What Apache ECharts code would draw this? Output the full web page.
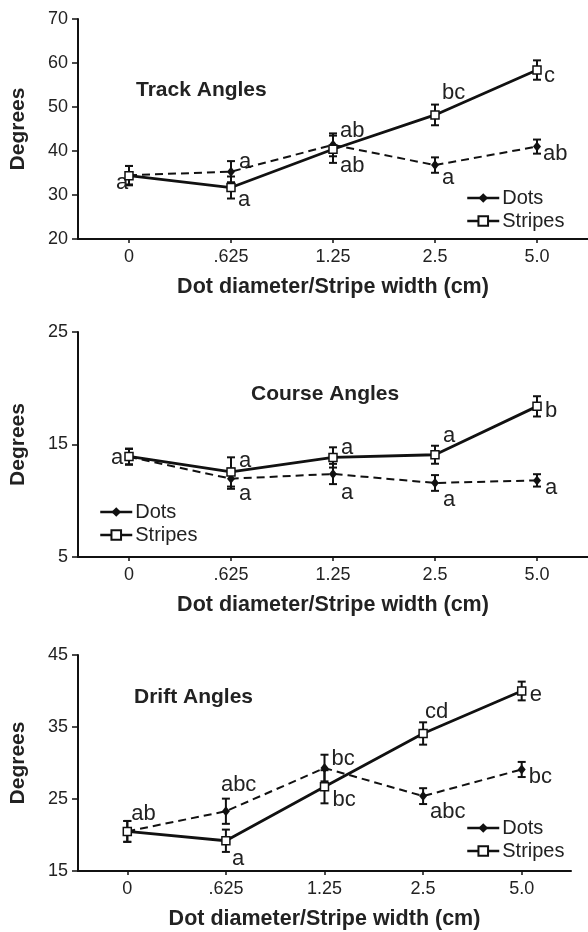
<!DOCTYPE html>
<html>
<head>
<meta charset="utf-8">
<script src="https://cdn.jsdelivr.net/npm/echarts@6/dist/echarts.min.js"></script>
<style>
  html, body { margin: 0; padding: 0; background: #fff; }
  #chart { width: 588px; height: 932px; }
</style>
</head>
<body>
<div id="chart"></div>
<script>
// x categories (dot diameter / stripe width, cm)
const categories = ["0", ".625", "1.25", "2.5", "5.0"];

// Track angles
const trackDots = [34.5, 35.3, 41.4, 36.8, 41.0];
const trackDotsErr = [2.1, 2.4, 2.6, 1.75, 1.6];
const trackStripes = [34.4, 31.7, 40.4, 48.2, 58.4];
const trackStripesErr = [2.2, 2.5, 3.1, 2.35, 2.2];
const trackDotsLetters = ["", "a", "ab", "a", "ab"];
const trackStripesLetters = ["a", "a", "ab", "bc", "c"];

// Course angles
const courseDots = [13.9, 11.96, 12.38, 11.58, 11.81];
const courseDotsErr = [0.7, 0.9, 0.9, 0.7, 0.55];
const courseStripes = [13.94, 12.56, 13.85, 14.09, 18.39];
const courseStripesErr = [0.7, 1.3, 0.9, 0.8, 0.9];
const courseDotsLetters = ["", "a", "a", "a", "a"];
const courseStripesLetters = ["a", "a", "a", "a", "b"];

// Drift angles
const driftDots = [20.5, 23.3, 29.3, 25.4, 29.1];
const driftDotsErr = [1.45, 1.75, 1.85, 1.1, 1.05];
const driftStripes = [20.5, 19.2, 26.7, 34.1, 40.0];
const driftStripesErr = [1.45, 1.55, 2.3, 1.55, 1.3];
const driftDotsLetters = ["", "abc", "bc", "abc", "bc"];
const driftStripesLetters = ["ab", "a", "bc", "cd", "e"];

// y axis ranges
const yMin = [20, 5, 15];
const yMax = [70, 25, 45];
const yStep = [10, 10, 10];

const FONT = "'Liberation Sans', Arial, Helvetica, sans-serif";
const INK = "#111";

// layout of each panel (pixels)
const layout = [
  { grid: { left: 77, top: 19, width: 520, height: 220 }, title: [136, 80], legend: [466, 188],
    nudgeDots: [null, [8, -10], [7, -14], [7, 13], [6, 7]],
    nudgeStripes: [[-13, 7], [7, 12], [7, 17], [7, -22], [7, 6]] },
  { grid: { left: 77, top: 332, width: 514, height: 225 }, title: [251, 384], legend: [99, 502],
    nudgeDots: [null, [8, 15], [8, 19], [8, 17], [8, 8]],
    nudgeStripes: [[-18, 2], [8, -11], [8, -10], [8, -19], [8, 5]] },
  { grid: { left: 77, top: 655, width: 494, height: 216 }, title: [134, 687], legend: [466, 818],
    nudgeDots: [null, [-5, -26], [7, -9], [7, 16], [7, 7]],
    nudgeStripes: [[4, -17], [6, 18], [8, 13], [2, -22], [8, 4]] }
];

const panels = [
  { name: "Track Angles", dots: trackDots, dotsErr: trackDotsErr, stripes: trackStripes, stripesErr: trackStripesErr,
    dotsLetters: trackDotsLetters, stripesLetters: trackStripesLetters },
  { name: "Course Angles", dots: courseDots, dotsErr: courseDotsErr, stripes: courseStripes, stripesErr: courseStripesErr,
    dotsLetters: courseDotsLetters, stripesLetters: courseStripesLetters },
  { name: "Drift Angles", dots: driftDots, dotsErr: driftDotsErr, stripes: driftStripes, stripesErr: driftStripesErr,
    dotsLetters: driftDotsLetters, stripesLetters: driftStripesLetters }
];

// error bars + significance letters
function errorBars(k, means, errs, letters, nudges) {
  return {
    type: "custom",
    xAxisIndex: k,
    yAxisIndex: k,
    z: 2,
    silent: true,
    data: means.map((m, i) => [i, m, errs[i]]),
    encode: { x: 0, y: 1 },
    renderItem: (params, api) => {
      const i = api.value(0), m = api.value(1), e = api.value(2);
      const top = api.coord([i, m + e]);
      const bot = api.coord([i, m - e]);
      const c = api.coord([i, m]);
      const st = { stroke: INK, lineWidth: 2 };
      const kids = [
        { type: "line", shape: { x1: top[0], y1: top[1], x2: bot[0], y2: bot[1] }, style: st },
        { type: "line", shape: { x1: top[0] - 4, y1: top[1], x2: top[0] + 4, y2: top[1] }, style: st },
        { type: "line", shape: { x1: bot[0] - 4, y1: bot[1], x2: bot[0] + 4, y2: bot[1] }, style: st }
      ];
      const txt = letters[params.dataIndex];
      const nd = nudges[params.dataIndex];
      if (txt && nd) {
        kids.push({
          type: "text",
          x: c[0] + nd[0],
          y: c[1] + nd[1],
          style: { text: txt, fill: "#222", font: "22px " + FONT, textAlign: "left", textVerticalAlign: "middle" }
        });
      }
      return { type: "group", children: kids };
    }
  };
}

const grids = [], xAxes = [], yAxes = [], titles = [], legends = [], series = [];

panels.forEach((p, k) => {
  const L = layout[k];
  grids.push(L.grid);
  xAxes.push({
    type: "category",
    gridIndex: k,
    data: categories,
    boundaryGap: true,
    name: "Dot diameter/Stripe width (cm)",
    nameLocation: "middle",
    nameGap: 37,
    nameTextStyle: { fontFamily: FONT, fontSize: 21.5, fontWeight: "bold", color: "#222" },
    axisLine: { lineStyle: { color: INK, width: 2 } },
    axisTick: { show: true, alignWithLabel: true, length: 4, lineStyle: { color: INK, width: 1.5 } },
    axisLabel: { fontFamily: FONT, fontSize: 18, color: "#222", margin: 9 },
    splitLine: { show: false }
  });
  yAxes.push({
    type: "value",
    gridIndex: k,
    min: yMin[k],
    max: yMax[k],
    interval: yStep[k],
    name: "Degrees",
    nameLocation: "middle",
    nameRotate: 90,
    nameGap: 49,
    nameTextStyle: { fontFamily: FONT, fontSize: 21, fontWeight: "bold", color: "#222" },
    axisLine: { show: true, lineStyle: { color: INK, width: 2 } },
    axisTick: { show: true, length: 6, lineStyle: { color: INK, width: 1.5 } },
    axisLabel: { fontFamily: FONT, fontSize: 18, color: "#222", margin: 10 },
    splitLine: { show: false }
  });
  titles.push({
    text: p.name,
    left: L.title[0],
    top: L.title[1],
    padding: 0,
    textStyle: { fontFamily: FONT, fontSize: 21, fontWeight: "bold", color: "#222" }
  });
  legends.push({
    data: ["Dots", "Stripes"],
    orient: "vertical",
    left: L.legend[0],
    top: L.legend[1],
    padding: 0,
    itemWidth: 32,
    itemHeight: 12,
    itemGap: 3,
    selectedMode: false,
    lineStyle: { type: "solid", width: 2.5, color: INK },
    textStyle: { fontFamily: FONT, fontSize: 20, color: "#222", padding: [0, 0, 0, -2] }
  });

  series.push(errorBars(k, p.dots, p.dotsErr, p.dotsLetters, L.nudgeDots));
  series.push(errorBars(k, p.stripes, p.stripesErr, p.stripesLetters, L.nudgeStripes));
  series.push({
    name: "Dots",
    type: "line",
    xAxisIndex: k,
    yAxisIndex: k,
    z: 3,
    data: p.dots,
    symbol: "diamond",
    symbolSize: [8, 10],
    itemStyle: { color: INK },
    lineStyle: { color: INK, width: 2, type: [8, 5] }
  });
  series.push({
    name: "Stripes",
    type: "line",
    xAxisIndex: k,
    yAxisIndex: k,
    z: 4,
    data: p.stripes,
    symbol: "rect",
    symbolSize: 8,
    itemStyle: { color: "#fff", borderColor: INK, borderWidth: 1.5 },
    lineStyle: { color: INK, width: 2.8 }
  });
});

const chart = echarts.init(document.getElementById("chart"));
chart.setOption({
  animation: false,
  backgroundColor: "#fff",
  title: titles,
  legend: legends,
  grid: grids,
  xAxis: xAxes,
  yAxis: yAxes,
  series: series
});
</script>
</body>
</html>
